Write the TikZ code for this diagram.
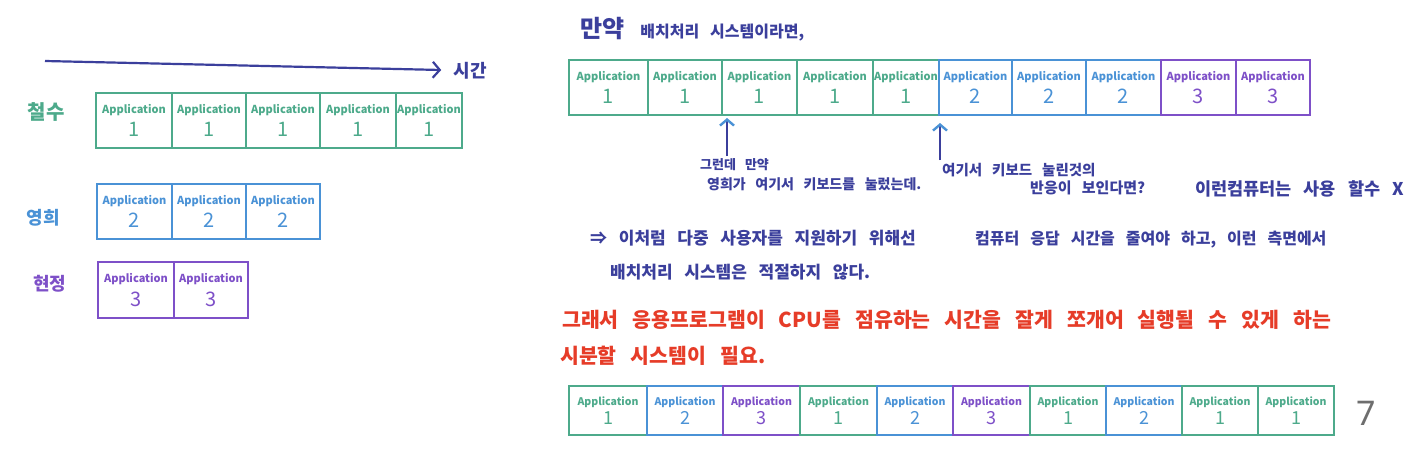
\documentclass[tikz,border=0pt]{standalone}
\usepackage{fontspec}
\setmainfont{Noto Sans CJK KR}[WordSpace=3]
\newfontfamily\numsans{Noto Sans}
\usetikzlibrary{arrows.meta}
\definecolor{appgreen}{HTML}{4DAA8B}
\definecolor{appblue}{HTML}{4A92D6}
\definecolor{apppurple}{HTML}{7E50C8}
\definecolor{inknavy}{HTML}{3B3F9C}
\definecolor{inkred}{HTML}{E63C28}
\definecolor{pagegray}{HTML}{6E6E6E}
\tikzset{
  appbox/.style={draw, line width=2.3pt, inner sep=0pt, align=center},
  navytext/.style={text=inknavy, anchor=west, inner sep=0pt, font=\bfseries\fontsize{14}{16}\selectfont},
  redtext/.style={text=inkred, anchor=west, inner sep=0pt, font=\bfseries\fontsize{20.5}{22}\selectfont},
  namelabel/.style={inner sep=0pt, font=\bfseries\fontsize{20}{21}\selectfont},
  timearrow/.style={draw=inknavy, line width=2.2pt, -{Straight Barb[length=7pt,width=16pt,line width=2.2pt]}},
  uparrow/.style={draw=inknavy, line width=2pt, -{Straight Barb[length=6pt,width=14pt,line width=2.4pt,color=appblue]}}
}
% name, x1, x2, y1, y2, colour, number
\newcommand\appcell[7]{%
  \node[appbox, draw=#6, text=#6, minimum width={#3pt-#2pt}, minimum height={#5pt-#4pt}]
    (#1) at ({(#2+#3)/2},{(#4+#5)/2})
    {\makebox[0pt]{\bfseries\fontsize{11}{12}\selectfont Application}\\[6pt]\makebox[0pt]{\fontsize{20}{20}\selectfont #7}};}
\newcommand\appcellsmall[7]{%
  \node[appbox, draw=#6, text=#6, minimum width={#3pt-#2pt}, minimum height={#5pt-#4pt}]
    (#1) at ({(#2+#3)/2},{(#4+#5)/2})
    {\makebox[0pt]{\bfseries\fontsize{10.5}{11}\selectfont Application}\\[3pt]\makebox[0pt]{\fontsize{18}{18}\selectfont #7}};}
\begin{document}
\begin{tikzpicture}[x=1pt,y=-1pt]
\useasboundingbox (0,0) rectangle (1414,460);
\fill[white] (0,0) rectangle (1414,460);

% ---- left: time axis and users
\node[namelabel, text=inknavy, font=\bfseries\fontsize{18}{19}\selectfont] (time) at (470,71) {시간};
\coordinate (tstart) at (45,61);
\draw[timearrow] (tstart) -- ([xshift=-12pt,yshift=1pt]time.west);

\node[namelabel, text=appgreen] (chulsu) at (46,112) {철수};
\node[namelabel, text=appblue, font=\bfseries\fontsize{18}{19}\selectfont] (younghee) at (43,218) {영희};
\node[namelabel, text=apppurple, font=\bfseries\fontsize{18}{19}\selectfont] (hyunjung) at (50,284) {현정};

\appcell{ca}{96}{172}{93}{148}{appgreen}{1}
\appcell{cb}{172}{246}{93}{148}{appgreen}{1}
\appcell{cc}{246}{320}{93}{148}{appgreen}{1}
\appcell{cd}{320}{396}{93}{148}{appgreen}{1}
\appcell{ce}{396}{462}{93}{148}{appgreen}{1}

\appcell{ya}{97}{172}{184}{239}{appblue}{2}
\appcell{yb}{172}{246}{184}{239}{appblue}{2}
\appcell{yc}{246}{320}{184}{239}{appblue}{2}

\appcell{ha}{98}{174}{262}{318}{apppurple}{3}
\appcell{hb}{174}{248}{262}{318}{apppurple}{3}

% ---- right: batch processing
\node[navytext, font=\bfseries\fontsize{16}{18}\selectfont] (title) at (580,29)
  {{\fontsize{24}{26}\selectfont 만약}\hspace{16pt}배치처리 시스템이라면,};

\appcell{t1}{569}{648}{60}{115}{appgreen}{1}
\appcell{t2}{648}{722}{60}{115}{appgreen}{1}
\appcell{t3}{722}{797}{60}{115}{appgreen}{1}
\appcell{t4}{797}{873}{60}{115}{appgreen}{1}
\appcell{t5}{873}{939}{60}{115}{appgreen}{1}
\appcell{t6}{939}{1012}{60}{115}{appblue}{2}
\appcell{t7}{1012}{1086}{60}{115}{appblue}{2}
\appcell{t8}{1086}{1161}{60}{115}{appblue}{2}
\appcell{t9}{1161}{1236}{60}{115}{apppurple}{3}
\appcell{t10}{1236}{1310}{60}{115}{apppurple}{3}

\coordinate (u1s) at (727,156);
\coordinate (u1e) at (727,118);
\coordinate (u2s) at (940,160);
\coordinate (u2e) at (940,123);
\draw[uparrow] (u1s) -- (u1e);
\draw[uparrow] (u2s) -- (u2e);

\node[navytext, font=\bfseries\fontsize{13}{15}\selectfont] (n1) at (700,165) {그런데 만약};
\node[navytext] (n2) at (707,184) {영희가 여기서 키보드를 눌렀는데.};
\node[navytext, font=\bfseries\fontsize{14.5}{16}\selectfont] (n3) at (942,170) {여기서 키보드 눌린것의};
\node[navytext, font=\bfseries\fontsize{15}{17}\selectfont] (n4) at (1030,188) {반응이 보인다면?};
\node[navytext, font=\bfseries\fontsize{17.5}{19}\selectfont] (n5) at (1195,189) {이런컴퓨터는 사용 할수 X};

\node[navytext, font=\bfseries\fontsize{17}{19}\selectfont] (c1) at (590,238) {⇒ 이처럼 다중 사용자를 지원하기 위해선};
\node[navytext, font=\bfseries\fontsize{16}{18}\selectfont] (c2) at (975,240) {컴퓨터 응답 시간을 줄여야 하고, 이런 측면에서};
\node[navytext, font=\bfseries\fontsize{17}{19}\selectfont] (c3) at (610,272) {배치처리 시스템은 적절하지 않다.};

\node[redtext] (r1) at (562,320) {그래서 응용프로그램이 CPU를 점유하는 시간을 잘게 쪼개어 실행될 수 있게 하는};
\node[redtext] (r2) at (560,356) {시분할 시스템이 필요.};

% ---- time sharing row
\appcellsmall{s1}{569}{647}{386}{435}{appgreen}{1}
\appcellsmall{s2}{647}{723}{386}{435}{appblue}{2}
\appcellsmall{s3}{723}{800}{386}{435}{apppurple}{3}
\appcellsmall{s4}{800}{877}{386}{435}{appgreen}{1}
\appcellsmall{s5}{877}{953}{386}{435}{appblue}{2}
\appcellsmall{s6}{953}{1030}{386}{435}{apppurple}{3}
\appcellsmall{s7}{1030}{1106}{386}{435}{appgreen}{1}
\appcellsmall{s8}{1106}{1182}{386}{435}{appblue}{2}
\appcellsmall{s9}{1182}{1258}{386}{435}{appgreen}{1}
\appcellsmall{s10}{1258}{1334}{386}{435}{appgreen}{1}

\node[text=pagegray, inner sep=0pt, font=\numsans\fontsize{34}{36}\selectfont] (page) at (1366,413) {7};
\end{tikzpicture}
\end{document}
